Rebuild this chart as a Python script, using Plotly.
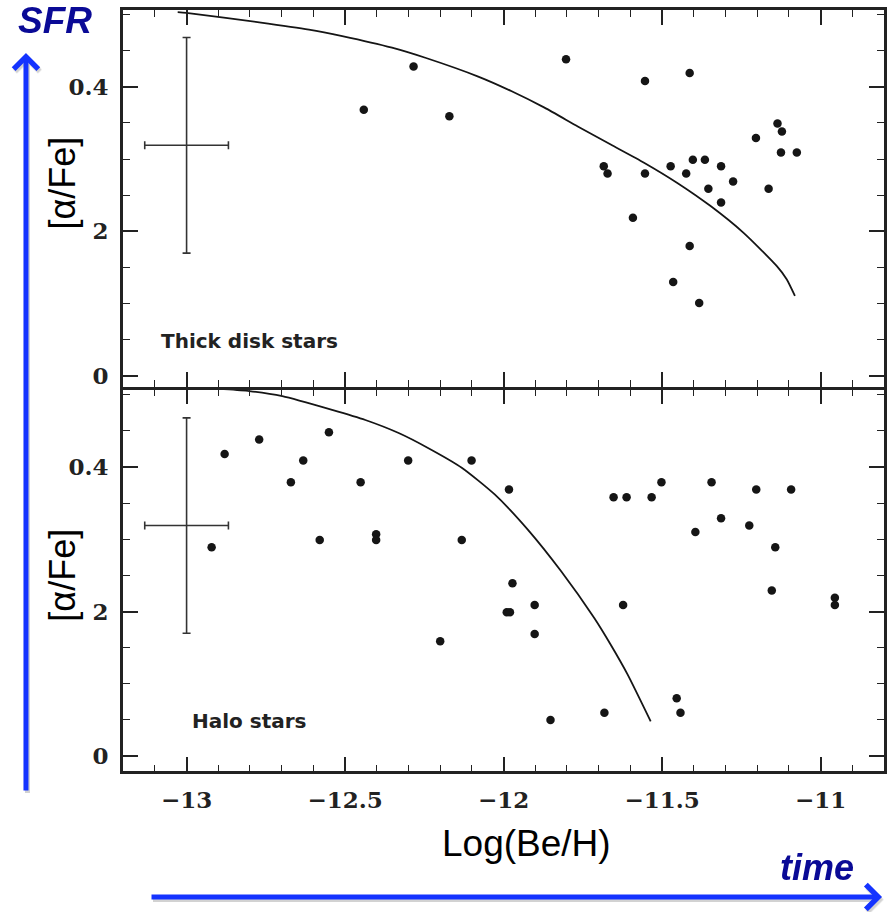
import plotly.graph_objects as go

# ---------------- data ----------------
thick_x = [-12.441, -12.284, -12.171, -11.803, -11.554, -11.413, -11.684, -11.672,
           -11.554, -11.473, -11.424, -11.403, -11.365, -11.314, -11.354, -11.276,
           -11.314, -11.592, -11.413, -11.465, -11.383, -11.204, -11.136, -11.122,
           -11.125, -11.075, -11.164]
thick_y = [0.368, 0.428, 0.359, 0.438, 0.408, 0.419, 0.290, 0.280,
           0.280, 0.290, 0.280, 0.299, 0.299, 0.290, 0.259, 0.269,
           0.240, 0.219, 0.180, 0.130, 0.101, 0.329, 0.349, 0.338,
           0.309, 0.309, 0.259]

thick_curve_x = [-13.028, -13.001, -12.771, -12.614, -12.509, -12.352, -12.247, -12.080,
                 -11.976, -11.871, -11.766, -11.662, -11.557, -11.452, -11.347, -11.243,
                 -11.138, -11.107, -11.081]
thick_curve_y = [0.503, 0.502, 0.489, 0.479, 0.470, 0.454, 0.440, 0.414,
                 0.394, 0.371, 0.345, 0.320, 0.295, 0.267, 0.235, 0.198,
                 0.152, 0.134, 0.111]

halo_x = [-12.921, -12.880, -12.771, -12.671, -12.632, -12.580, -12.551, -12.451,
          -12.402, -12.402, -12.301, -12.200, -12.101, -12.132, -11.983, -11.972,
          -11.990, -11.980, -11.902, -11.902, -11.852, -11.682, -11.653, -11.612,
          -11.533, -11.502, -11.623, -11.454, -11.442, -11.395, -11.344, -11.314,
          -11.225, -11.203, -11.143, -11.154, -11.093, -10.955, -10.955]
halo_y = [0.289, 0.418, 0.438, 0.379, 0.409, 0.299, 0.448, 0.379,
          0.307, 0.299, 0.409, 0.159, 0.409, 0.299, 0.369, 0.239,
          0.199, 0.199, 0.209, 0.169, 0.050, 0.060, 0.358, 0.358,
          0.358, 0.379, 0.209, 0.080, 0.060, 0.310, 0.379, 0.329,
          0.319, 0.369, 0.289, 0.229, 0.369, 0.219, 0.209]

halo_curve_x = [-12.93, -12.896, -12.802, -12.698, -12.541, -12.436, -12.331, -12.237,
                -12.132, -12.028, -11.923, -11.819, -11.714, -11.662, -11.609, -11.536]
halo_curve_y = [0.509, 0.508, 0.505, 0.498, 0.479, 0.465, 0.447, 0.426,
                0.399, 0.362, 0.313, 0.256, 0.191, 0.154, 0.113, 0.048]

err_x = [-13.0]
err_y = [0.319]
err_dx = [0.132]
err_dy = [0.149]

x_tickvals = [-13, -12.5, -12, -11.5, -11]
x_ticktext = ["\u221213", "\u221212.5", "\u221212", "\u221211.5", "\u221211"]
y_tickvals = [0, 0.2, 0.4]
y_ticktext = ["0", "2", "0.4"]

panel_labels = ["Thick disk stars", "Halo stars"]

# ---------------- figure ----------------
W, H = 887, 912
def px(x):
    return x / W
def py(y):
    return 1 - y / H

fig = go.Figure()
INK = "#151515"

def add_panel(xs, ys, cx, cy, xa, ya):
    fig.add_trace(go.Scatter(x=cx, y=cy, mode="lines",
                             line=dict(color=INK, width=1.8, shape="spline", smoothing=0.6),
                             xaxis=xa, yaxis=ya, hoverinfo="skip", showlegend=False))
    fig.add_trace(go.Scatter(x=xs, y=ys, mode="markers", marker=dict(color=INK, size=8.5),
                             xaxis=xa, yaxis=ya, showlegend=False))
    fig.add_trace(go.Scatter(x=err_x, y=err_y, mode="markers", marker=dict(size=0.1, color="rgba(0,0,0,0)"),
                             error_x=dict(type="data", array=err_dx, color="#333", thickness=1.6, width=4),
                             error_y=dict(type="data", array=err_dy, color="#333", thickness=1.6, width=4),
                             xaxis=xa, yaxis=ya, showlegend=False, hoverinfo="skip"))

add_panel(thick_x, thick_y, thick_curve_x, thick_curve_y, "x", "y")
add_panel(halo_x, halo_y, halo_curve_x, halo_curve_y, "x2", "y2")

LW = 2.5
xdom = [px(123), px(885)]
top_dom = [py(388), py(10)]
bot_dom = [py(773), py(388 + LW)]

tickfont = dict(family="DejaVu Serif", size=23, color="#222", weight="bold")

def xaxis_cfg(show_labels, anchor):
    return dict(domain=xdom, range=[-13.201, -10.80], anchor=anchor,
                showline=True, linewidth=LW, linecolor="#222", mirror="ticks",
                ticks="inside", ticklen=15, tickwidth=1.6, tickcolor="#222",
                tickvals=x_tickvals, ticktext=x_ticktext, showticklabels=show_labels,
                tickfont=tickfont, ticklabelstandoff=6,
                minor=dict(ticks="inside", ticklen=7, tickwidth=1.4, tickcolor="#222", dtick=0.1, showgrid=False),
                showgrid=False, zeroline=False)

def yaxis_cfg(dom, rng, anchor):
    return dict(domain=dom, range=rng, anchor=anchor,
                showline=True, linewidth=LW, linecolor="#222", mirror="ticks",
                ticks="inside", ticklen=15, tickwidth=1.6, tickcolor="#222",
                tickvals=y_tickvals, ticktext=y_ticktext,
                tickfont=tickfont, ticklabelstandoff=7,
                minor=dict(ticks="inside", ticklen=7, tickwidth=1.4, tickcolor="#222", dtick=0.05, tick0=0, showgrid=False),
                showgrid=False, zeroline=False)

fig.update_layout(
    width=W, height=H,
    margin=dict(l=0, r=0, t=0, b=0),
    paper_bgcolor="white", plot_bgcolor="white",
    xaxis=xaxis_cfg(False, "y"),
    yaxis=yaxis_cfg(top_dom, [-0.0152, 0.506], "x"),
    xaxis2=xaxis_cfg(True, "y2"),
    yaxis2=yaxis_cfg(bot_dom, [-0.021, 0.507], "x2"),
)

ann = []
lab_font = dict(family="DejaVu Sans", size=20, color="#222", weight="bold")
ann.append(dict(x=-12.80, y=0.048, xref="x", yref="y", text=panel_labels[0], showarrow=False,
                xanchor="center", yanchor="middle", font=lab_font))
ann.append(dict(x=-12.80, y=0.048, xref="x2", yref="y2", text=panel_labels[1], showarrow=False,
                xanchor="center", yanchor="middle", font=lab_font))
# y titles
for yc in (183, 576):
    ann.append(dict(x=px(63), y=py(yc), xref="paper", yref="paper", text="[\u03b1/Fe]", showarrow=False,
                    xanchor="center", yanchor="middle",
                    textangle=-90, font=dict(family="Liberation Sans", size=36, color="black")))
# x title
ann.append(dict(x=px(527), y=py(845), xref="paper", yref="paper", text="Log(Be/H)", showarrow=False,
                xanchor="center", yanchor="middle",
                font=dict(family="Liberation Sans", size=37, color="black")))

# arrows with faint shadow
BLUE = "#1433ff"
for dx, dy, col in ((1.5, 2.5, "rgba(0,0,0,0.18)"), (0, 0, BLUE)):
    ann.append(dict(x=px(26 + dx), y=py(53 + dy), xref="paper", yref="paper", text="",
                    showarrow=True, ax=0, ay=739, arrowhead=4, arrowsize=0.95, arrowwidth=5,
                    arrowcolor=col, standoff=0))
    ann.append(dict(x=px(883 + dx), y=py(899 + dy), xref="paper", yref="paper", text="",
                    showarrow=True, ax=-732, ay=0, arrowhead=4, arrowsize=0.95, arrowwidth=5,
                    arrowcolor=col, standoff=0))

NAVY = "#0a0a96"
ann.append(dict(x=px(55), y=py(21), xref="paper", yref="paper", text="<b><i>SFR</i></b>", showarrow=False,
                xanchor="center", yanchor="middle",
                font=dict(family="Liberation Sans", size=37, color=NAVY)))
ann.append(dict(x=px(818), y=py(869), xref="paper", yref="paper", text="<b><i>time</i></b>", showarrow=False,
                xanchor="center", yanchor="middle",
                font=dict(family="Liberation Sans", size=36, color=NAVY)))

fig.update_layout(annotations=ann)
fig.write_html("out.html")
